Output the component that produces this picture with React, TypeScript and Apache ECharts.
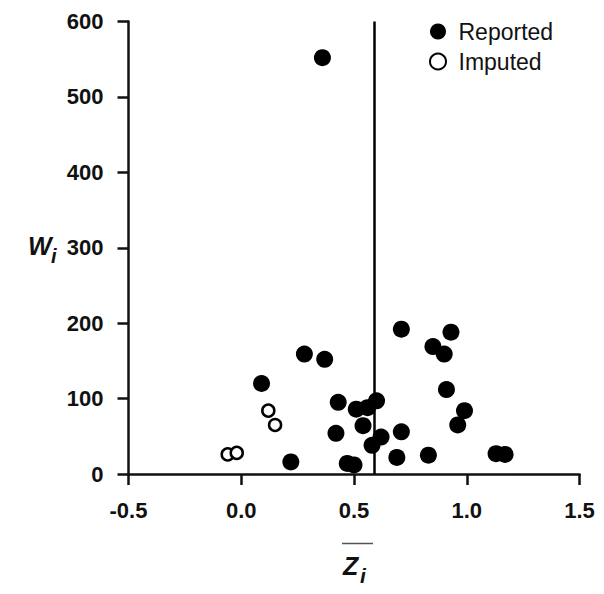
import React, { useEffect, useRef } from "react";
import * as echarts from "echarts";

// Reported studies: [z̄_i, W_i]
const reportedZ = [0.09, 0.28, 0.37, 0.43, 0.42, 0.22, 0.71, 0.93, 0.85, 0.90, 0.91, 0.99, 0.96, 0.71, 0.69, 0.83, 1.13, 1.17, 0.51, 0.56, 0.60, 0.54, 0.62, 0.58, 0.47, 0.50, 0.36];
const reportedW = [120, 159, 152, 95, 54, 16, 192, 188, 169, 159, 112, 84, 65, 56, 22, 25, 27, 26, 86, 88, 97, 64, 49, 38, 14, 12, 552];

// Imputed studies
const imputedZ = [0.12, 0.15, -0.06, -0.02];
const imputedW = [84, 65, 26, 28];

// Pooled mean line
const meanZ = 0.589;

const xTicks = { min: -0.5, max: 1.5, interval: 0.5 };
const yTicks = { min: 0, max: 600, interval: 100 };

const FONT = "'Liberation Sans', Arial, sans-serif";

export default function App() {
  const ref = useRef<HTMLDivElement>(null);

  useEffect(() => {
    if (!ref.current) return;
    const chart = echarts.init(ref.current, undefined, { renderer: "svg" });

    const reported = reportedZ.map((z, i) => [z, reportedW[i]]);
    const imputed = imputedZ.map((z, i) => [z, imputedW[i]]);

    const axisCommon = {
      axisLine: { show: true, onZero: false, lineStyle: { color: "#111", width: 2.5 } },
      axisTick: { show: true, inside: false, length: 11, lineStyle: { color: "#111", width: 2.5 } },
      splitLine: { show: false },
    };

    chart.setOption({
      animation: false,
      backgroundColor: "#ffffff",
      grid: { left: 128.5, right: 24.5, top: 21.5, bottom: 120, containLabel: false },
      legend: {
        orient: "vertical",
        left: 424,
        top: 15,
        itemWidth: 31,
        itemHeight: 16,
        itemGap: 7,
        textStyle: { fontSize: 23, color: "#111", fontFamily: FONT },
        data: ["Reported", "Imputed"],
      },
      xAxis: {
        type: "value",
        min: xTicks.min,
        max: xTicks.max,
        interval: xTicks.interval,
        ...axisCommon,
        axisLabel: {
          margin: 25,
          fontSize: 22,
          fontWeight: "bold",
          color: "#111",
          fontFamily: FONT,
          formatter: (v: number) => v.toFixed(1),
        },
      },
      yAxis: {
        type: "value",
        min: yTicks.min,
        max: yTicks.max,
        interval: yTicks.interval,
        ...axisCommon,
        axisLabel: {
          margin: 25,
          fontSize: 22,
          fontWeight: "bold",
          color: "#111",
          fontFamily: FONT,
        },
      },
      series: [
        {
          name: "Reported",
          type: "scatter",
          symbol: "circle",
          symbolSize: 17,
          itemStyle: { color: "#000", opacity: 1 },
          data: reported,
          markLine: {
            silent: true,
            symbol: ["none", "none"],
            label: { show: false },
            lineStyle: { color: "#000", width: 2.5, type: "solid" },
            data: [{ xAxis: meanZ }],
          },
        },
        {
          name: "Imputed",
          type: "scatter",
          symbol: "circle",
          symbolSize: 12,
          itemStyle: { color: "#fff", borderColor: "#000", borderWidth: 2.5, opacity: 1 },
          data: imputed,
        },
      ],
      graphic: [
        // y-axis title W_i
        {
          type: "text",
          left: 28,
          top: 233,
          style: { text: "W", font: `italic bold 25px ${FONT}`, fill: "#111" },
        },
        {
          type: "text",
          left: 51,
          top: 246,
          style: { text: "i", font: `italic bold 20px ${FONT}`, fill: "#111" },
        },
        // x-axis title: overbar + Z_i
        {
          type: "line",
          shape: { x1: 342, y1: 543.5, x2: 373, y2: 543.5 },
          style: { stroke: "#555", lineWidth: 1.5 },
        },
        {
          type: "text",
          left: 343,
          top: 553,
          style: { text: "Z", font: `italic bold 25px ${FONT}`, fill: "#111" },
        },
        {
          type: "text",
          left: 360,
          top: 565,
          style: { text: "i", font: `italic bold 21px ${FONT}`, fill: "#111" },
        },
      ],
    });

    return () => chart.dispose();
  }, []);

  return (
    <div
      ref={ref}
      style={{ position: "absolute", left: 0, top: 0, width: 604, height: 594, background: "#fff" }}
    />
  );
}
